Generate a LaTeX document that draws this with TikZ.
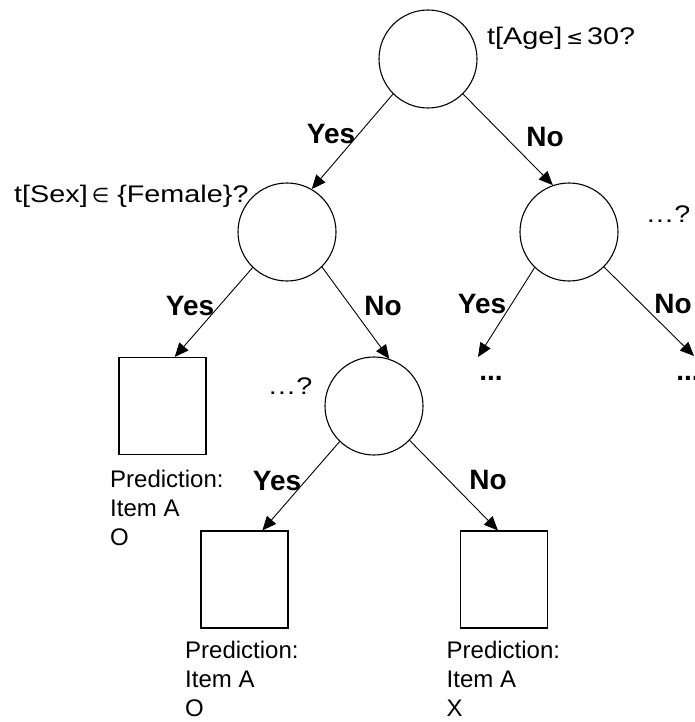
\documentclass[tikz,border=0pt]{standalone}
\usepackage{fontspec}
\setmainfont{Liberation Sans}
\newfontfamily\qfam[FakeStretch=1.2]{Liberation Sans}
\newfontfamily\symfam{DejaVu Sans}
\usetikzlibrary{arrows.meta}
\begin{document}
\begin{tikzpicture}[x=1pt,y=-1pt,
  test/.style={circle,draw,line width=1.1pt,minimum size=98pt,inner sep=0pt},
  leaf/.style={rectangle,draw,line width=1.1pt,minimum width=87pt,minimum height=97pt,inner sep=0pt},
  edge/.style={line width=0.9pt,-{Triangle[length=14pt,width=12pt]}},
  lbl/.style={font=\fontsize{28}{32}\selectfont\bfseries,inner sep=0pt},
  qtxt/.style={font=\qfam\fontsize{24}{30}\selectfont,inner sep=0pt},
  pred/.style={font=\fontsize{24}{29}\selectfont,inner sep=0pt,align=left,anchor=north west}]
\useasboundingbox (0,0) rectangle (695,722);
\clip (0,0) rectangle (695,722);

% decision nodes
\node[test] (root) at (428,59) {};
\node[test] (sex)  at (287,232) {};
\node[test] (rgt)  at (569,232) {};
\node[test] (mid)  at (374,406) {};

% leaves
\node[leaf] (leaf1) at (162.5,406) {};
\node[leaf] (leaf2) at (244.5,579.5) {};
\node[leaf] (leaf3) at (504,579.5) {};

% questions
\node[qtxt,anchor=west] (qage) at (487,38) {t[Age]\,{\symfam\fontsize{20}{24}\selectfont≤}\,30?};
\node[qtxt,anchor=west] (qsex) at (14,196) {t[Sex]\,{\symfam\fontsize{20}{24}\selectfont∈} \{Female\}?};
\node[qtxt] (qrgt) at (668,214) {…?};
\node[qtxt] (qmid) at (290,386) {…?};

% open branches
\node[lbl] (dots1) at (491,378) {...};
\node[lbl] (dots2) at (688,378) {...};
\coordinate (tip1) at (478,357);
\coordinate (tip2) at (694,356);

% predictions
\node[pred] (p1) at (110,469.5) {Prediction:\\Item A\\O};
\node[pred] (p2) at (185,640.5) {Prediction:\\Item A\\O};
\node[pred] (p3) at (446.5,640.5) {Prediction:\\Item A\\X};

% branches
\draw[edge] (root.225) -- (sex.60);
\draw[edge] (root.315) -- (rgt.109);
\draw[edge] (sex.226) -- (leaf1.76);
\draw[edge] (sex.315) -- (mid.72);
\draw[edge] (rgt.226) -- (tip1);
\draw[edge] (rgt.315) -- (tip2);
\draw[edge] (mid.226) -- (leaf2.70);
\draw[edge] (mid.316) -- (leaf3.97);

% branch labels
\node[lbl] (y1) at (331,134) {Yes};
\node[lbl] (n1) at (545,137) {No};
\node[lbl] (y2) at (190,306) {Yes};
\node[lbl] (n2) at (383,306) {No};
\node[lbl] (y3) at (482,304) {Yes};
\node[lbl] (n3) at (673,304) {No};
\node[lbl] (y4) at (277,481) {Yes};
\node[lbl] (n4) at (488,480) {No};
\end{tikzpicture}
\end{document}
